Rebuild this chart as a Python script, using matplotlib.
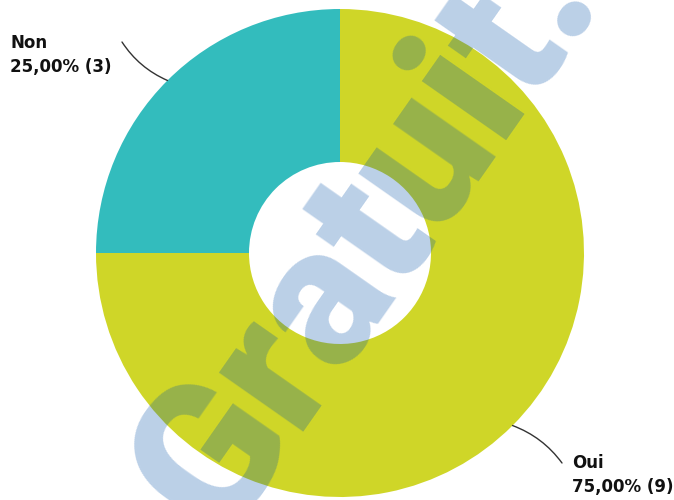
import numpy as np
import matplotlib
matplotlib.use("Agg")
from matplotlib import pyplot as plt

# survey answers
labels = ["Non", "Oui"]
counts = [3, 9]
colors = ["#33bcbd", "#cfd628"]

W, H = 674, 500
CX, CY = 340, 247      # donut centre (y measured from the bottom)
R_OUT, R_IN = 244, 91

fig = plt.figure(figsize=(W / 100, H / 100), dpi=100)
ax = fig.add_axes([0, 0, 1, 1])

wedges, _ = ax.pie(
    counts, colors=colors, startangle=90, counterclock=True,
    center=(CX, CY), radius=R_OUT,
    wedgeprops=dict(width=R_OUT - R_IN, linewidth=0),
)

ax.set_xlim(0, W)
ax.set_ylim(0, H)
ax.set_aspect("equal")
ax.axis("off")

total = sum(counts)
# label text positions and leader line ends
label_pos = [(10, 445), (572, 25)]
line_end = [(122, 458), (562, 37)]
rads = [0.15, 0.15]

for w, lab, n, (tx, ty), (lx, ly), rad in zip(wedges, labels, counts, label_pos, line_end, rads):
    mid = np.deg2rad((w.theta1 + w.theta2) / 2)
    px = CX + R_OUT * np.cos(mid)
    py = CY + R_OUT * np.sin(mid)
    pct = f"{100 * n / total:.2f}".replace(".", ",")
    ax.annotate("", xy=(px, py), xytext=(lx, ly),
                arrowprops=dict(arrowstyle="-", color="#333333", lw=1,
                                connectionstyle=f"arc3,rad={rad}",
                                shrinkA=0, shrinkB=0))
    ax.text(tx, ty, f"{lab}\n{pct}% ({n})", ha="left", va="center",
            fontsize=12, fontweight="bold", color="#111111",
            linespacing=1.45)

# watermark
ax.text(367, 262, "Gratuit.", rotation=55, ha="center", va="center",
        family="Roboto", fontsize=140, fontweight="black",
        color="#0050a8", alpha=0.27, zorder=5)

fig.savefig("out.png", dpi=100)
